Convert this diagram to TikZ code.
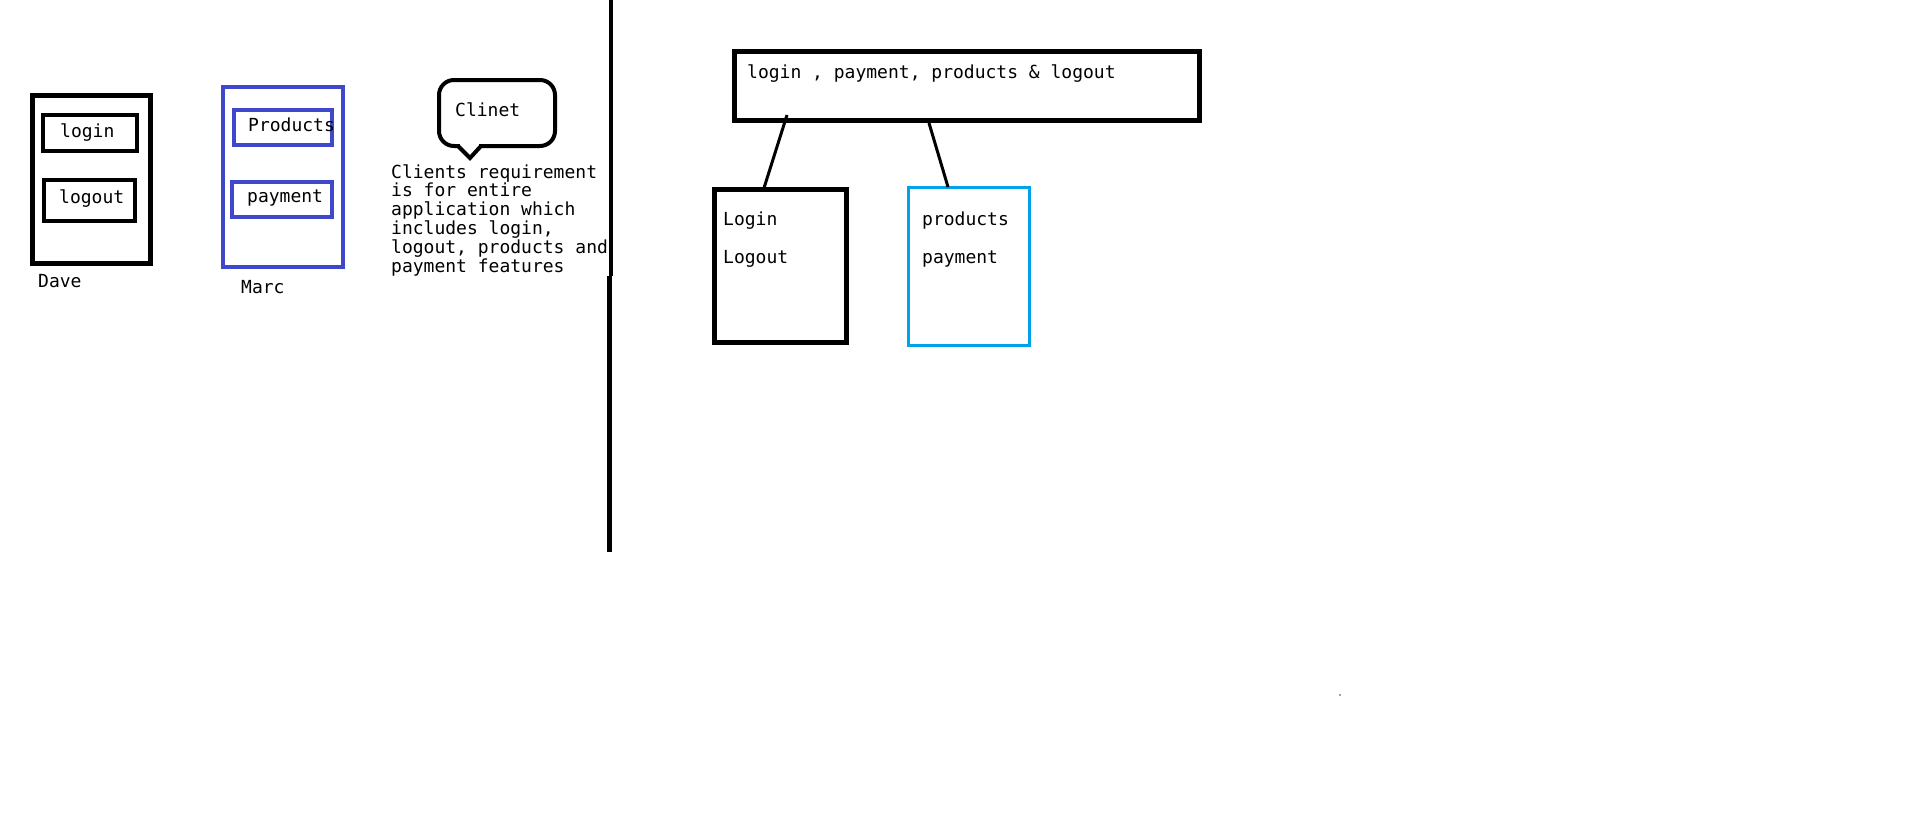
\documentclass[tikz,border=0pt]{standalone}
\usepackage{fontspec}
\setmonofont{DejaVu Sans Mono}
\definecolor{indigo}{HTML}{3F48CC}
\definecolor{turq}{HTML}{00A2E8}
\begin{document}
\begin{tikzpicture}[x=1pt,y=-1pt,
  box/.style={draw, inner sep=0pt, outer sep=0pt},
  txt/.style={font=\ttfamily\fontsize{18}{19}\selectfont, inner sep=0pt, anchor=base west},
  conn/.style={line width=3pt}]
\useasboundingbox (0,0) rectangle (1913,819);
% Dave
\node[box, line width=5pt, minimum width=118pt, minimum height=168pt] (dave) at (91.5,179.5) {};
\node[box, line width=4pt, minimum width=94pt, minimum height=36pt] (loginbox) at (90,133) {};
\node[box, line width=4pt, minimum width=91pt, minimum height=41pt] (logoutbox) at (89.5,200.5) {};
\node[txt] (tlogin) at (60,137) {login};
\node[txt] (tlogout) at (59,203) {logout};
\node[txt] (tdave) at (38,287) {Dave};
% Marc
\node[box, draw=indigo, line width=4pt, minimum width=120pt, minimum height=180pt] (marc) at (283,177) {};
\node[box, draw=indigo, line width=4pt, minimum width=98pt, minimum height=35pt] (prodbox) at (283,127.5) {};
\node[box, draw=indigo, line width=4pt, minimum width=100pt, minimum height=35pt] (paybox) at (282,199.5) {};
\node[txt] (tprod) at (248,131) {Products};
\node[txt] (tpay) at (247,202) {payment};
\node[txt] (tmarc) at (241,293) {Marc};
% Client bubble
\node[box, line width=4pt, rounded corners=15pt, minimum width=116pt, minimum height=66pt] (bubble) at (497,113) {};
\fill[white] (460,143) rectangle (479,149);
\draw[line width=4pt, line join=miter] (458,146) -- (470,158) -- (481,146);
\node[txt] (tclinet) at (455,116) {Clinet};
\node[txt] (p1) at (391,178) {Clients requirement};
\node[txt] (p2) at (391,196.8) {is for entire};
\node[txt] (p3) at (391,215.6) {application which};
\node[txt] (p4) at (391,234.4) {includes login,};
\node[txt] (p5) at (391,253.2) {logout, products and};
\node[txt] (p6) at (391,272) {payment features};
% divider
\coordinate (v1) at (611,0);
\coordinate (v2) at (611,276);
\coordinate (v3) at (609.5,276);
\coordinate (v4) at (609.5,552);
\draw[line width=4.5pt] (v1) -- (v2);
\draw[line width=4.5pt] (v3) -- (v4);
% right side
\node[box, line width=5pt, minimum width=465pt, minimum height=69pt] (top) at (967,86) {};
\node[txt] (ttop) at (747,78) {login , payment, products \& logout};
\node[box, line width=5pt, minimum width=132pt, minimum height=153pt] (lbox) at (780.5,266) {};
\node[txt] (tL1) at (723,225) {Login};
\node[txt] (tL2) at (723,263) {Logout};
\node[box, draw=turq, line width=3pt, minimum width=121pt, minimum height=158pt] (pbox) at (969,266.5) {};
\node[txt] (tP1) at (922,225) {products};
\node[txt] (tP2) at (922,263) {payment};
\coordinate (c1a) at (787,115);
\coordinate (c1b) at (764,188);
\coordinate (c2a) at (929,123);
\coordinate (c2b) at (948,187);
\draw[conn] (c1a) -- (c1b);
\draw[conn] (c2a) -- (c2b);
% stray dot
\fill[gray!70] (1339,694) rectangle (1341,696);
\end{tikzpicture}
\end{document}
